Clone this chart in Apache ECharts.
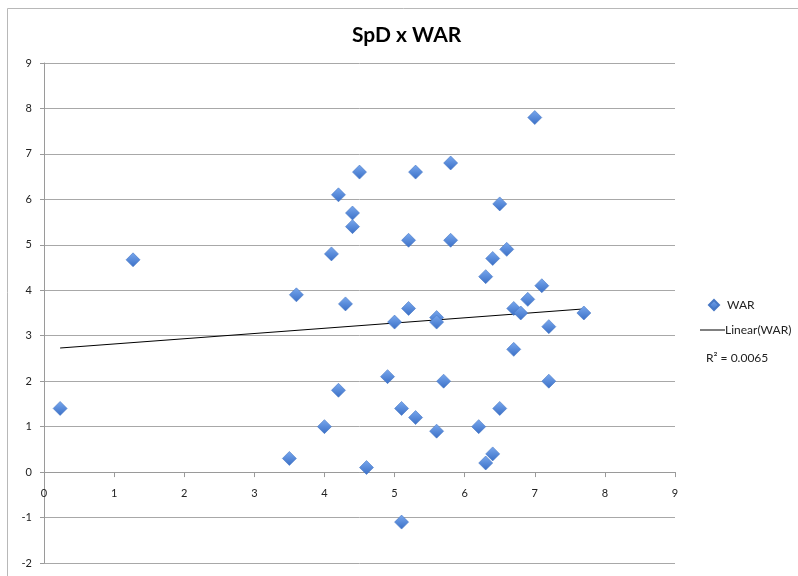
<!DOCTYPE html>
<html>
<head>
<meta charset="utf-8">
<script src="https://cdn.jsdelivr.net/npm/echarts@6/dist/echarts.min.js"></script>
<style>html,body{margin:0;padding:0;background:#fff}#c{width:798px;height:576px}</style>
</head>
<body>
<div id="c"></div>
<script>
// SpD (x) and WAR (y) values
var spd = [0.23, 1.27, 3.5, 3.6, 4.0, 4.1, 4.2, 4.2, 4.3, 4.4, 4.4, 4.5, 4.6, 4.9, 5.0, 5.1, 5.1, 5.2, 5.2, 5.3, 5.3, 5.6, 5.6, 5.6, 5.7, 5.8, 5.8, 6.2, 6.3, 6.3, 6.4, 6.4, 6.5, 6.5, 6.6, 6.7, 6.7, 6.8, 6.9, 7.0, 7.1, 7.2, 7.2, 7.7];
var war = [1.4, 4.67, 0.3, 3.9, 1.0, 4.8, 6.1, 1.8, 3.7, 5.7, 5.4, 6.6, 0.1, 2.1, 3.3, 1.4, -1.1, 5.1, 3.6, 6.6, 1.2, 3.4, 3.3, 0.9, 2.0, 6.8, 5.1, 1.0, 4.3, 0.2, 4.7, 0.4, 5.9, 1.4, 4.9, 3.6, 2.7, 3.5, 3.8, 7.8, 4.1, 3.2, 2.0, 3.5];
// Linear trend line endpoints
var trendX = [0.23, 7.7];
var trendY = [2.73, 3.59];
var xTicks = [0, 1, 2, 3, 4, 5, 6, 7, 8, 9];
var yTicks = [-2, -1, 0, 1, 2, 3, 4, 5, 6, 7, 8, 9];
var titleText = 'SpD x WAR';
var seriesName = 'WAR';
var trendName = 'Linear(WAR)';
var r2Text = 'R² = 0.0065';

var scatterData = spd.map(function (x, i) { return [x, war[i]]; });
var trendData = trendX.map(function (x, i) { return [x, trendY[i]]; });

var GRID_H = 500;
var yMin = yTicks[0], yMax = yTicks[yTicks.length - 1];
// x axis sits on y = 0: shift it up from the grid bottom
var xAxisOffset = -(0 - yMin) * GRID_H / (yMax - yMin);

var FONT = 'Lato, "Open Sans", sans-serif';
var chart = echarts.init(document.getElementById('c'), null, { renderer: 'canvas' });
chart.setOption({
  backgroundColor: '#fff',
  animation: false,
  textStyle: { fontFamily: FONT },
  title: {
    text: titleText, left: 352, top: 25, padding: 0,
    textStyle: { fontFamily: FONT, fontSize: 21, fontWeight: 'bold', color: '#000' }
  },
  graphic: [
    { type: 'rect', shape: { x: 7.5, y: 8.5, width: 820, height: 600 }, style: { fill: null, stroke: '#b8b8b8', lineWidth: 1 }, silent: true },
    { type: 'text', left: 706, top: 352, style: { text: r2Text, font: '12px ' + FONT, fill: '#222' } }
  ],
  legend: [
    {
      left: 703, top: 294, itemWidth: 10, itemHeight: 10,
      textStyle: { fontFamily: FONT, fontSize: 12, color: '#222', padding: [0, 0, 0, 3] },
      data: [{ name: seriesName, icon: 'diamond' }]
    },
    {
      left: 695, top: 319, itemWidth: 25, itemHeight: 1, itemGap: 2,
      textStyle: { fontFamily: FONT, fontSize: 12, color: '#222', padding: [0, 0, 0, -5] },
      data: [{ name: trendName, icon: 'rect', itemStyle: { color: '#000' } }]
    }
  ],
  grid: { left: 44, top: 63, width: 631, height: GRID_H, containLabel: false, outerBoundsMode: 'none' },
  xAxis: {
    type: 'value', min: 0, max: 9, interval: 1, position: 'bottom', offset: xAxisOffset,
    axisLine: { show: true, onZero: false, lineStyle: { color: '#9a9a9a', width: 1 } },
    axisTick: { show: true, length: 5, inside: false, lineStyle: { color: '#9a9a9a' } },
    axisLabel: { show: true, margin: 16, fontSize: 11, color: '#222', fontFamily: FONT,
      formatter: function (v) { return xTicks.indexOf(v) >= 0 ? String(v) : ''; } },
    splitLine: { show: false }
  },
  yAxis: {
    type: 'value', min: yMin, max: yMax, interval: 1,
    axisLine: { show: true, onZero: false, lineStyle: { color: '#9a9a9a', width: 1 } },
    axisTick: { show: true, length: 4, lineStyle: { color: '#9a9a9a' } },
    axisLabel: { margin: 12, fontSize: 11, color: '#222', fontFamily: FONT,
      formatter: function (v) { return yTicks.indexOf(v) >= 0 ? String(v) : ''; } },
    splitLine: { show: true, lineStyle: { color: '#a8a8a8', width: 1 } }
  },
  series: [
    {
      name: seriesName, type: 'scatter', symbol: 'diamond', symbolSize: [14, 14],
      data: scatterData, z: 3,
      itemStyle: {
        opacity: 1,
        color: new echarts.graphic.LinearGradient(0, 0, 0, 1, [
          { offset: 0, color: '#79a8ee' }, { offset: 1, color: '#3a6fc6' }
        ]),
        borderColor: '#4677c4', borderWidth: 0.6
      }
    },
    {
      name: trendName, type: 'line', data: trendData, symbol: 'none', showSymbol: false,
      lineStyle: { color: '#000', width: 1 }, itemStyle: { color: '#000' }, z: 2
    }
  ]
});
</script>
</body>
</html>
